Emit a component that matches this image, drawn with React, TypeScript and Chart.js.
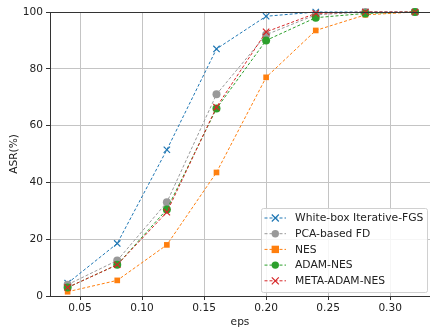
import React, { useEffect, useRef } from "react";
import { Chart, registerables } from "chart.js";

Chart.register(...registerables);

const eps = [0.04, 0.08, 0.12, 0.16, 0.2, 0.24, 0.28, 0.32];
const whiteBox = [4.5, 18.5, 51.5, 87, 98.5, 100, 100, 100];
const pcaFD = [4, 12.5, 33, 71, 92, 99, 100, 100];
const nes = [1.5, 5.5, 18, 43.5, 77, 93.5, 99, 100];
const adamNes = [3, 11, 30.5, 66, 90, 98, 99.5, 100];
const metaAdamNes = [3, 11, 29.5, 66.5, 93, 99.5, 100, 100];
const xTicks = [0.05, 0.1, 0.15, 0.2, 0.25, 0.3];
const yTicks = [0, 20, 40, 60, 80, 100];

const seriesNames = ["White-box Iterative-FGS", "PCA-based FD", "NES", "ADAM-NES", "META-ADAM-NES"];
const seriesData = [whiteBox, pcaFD, nes, adamNes, metaAdamNes];
const seriesColors = ["#1f77b4", "#999999", "#ff7f0e", "#2ca02c", "#d62728"];
const seriesMarkers = ["crossRot", "circle", "rect", "circle", "crossRot"];

const FONT = "DejaVu Sans";
const FS = 10.6;

const frameLegendPlugin = {
  id: "frameLegend",
  afterDraw(chart: any) {
    const { ctx, chartArea } = chart;
    ctx.save();
    // top spine
    ctx.strokeStyle = "#333";
    ctx.lineWidth = 1;
    ctx.beginPath();
    ctx.moveTo(chartArea.left, chartArea.top + 0.5);
    ctx.lineTo(chartArea.right, chartArea.top + 0.5);
    ctx.stroke();

    // legend
    const bx = 261, by = 208, bw = 166, bh = 84;
    ctx.fillStyle = "rgba(255,255,255,0.85)";
    ctx.strokeStyle = "#d0d0d0";
    ctx.lineWidth = 1;
    ctx.beginPath();
    ctx.roundRect(bx + 0.5, by + 0.5, bw, bh, 2);
    ctx.fill();
    ctx.stroke();
    ctx.font = `10.75px "${FONT}"`;
    ctx.textBaseline = "middle";
    seriesNames.forEach((name, i) => {
      const y = 218 + i * 15.7;
      const color = seriesColors[i];
      ctx.strokeStyle = color;
      ctx.lineWidth = 1;
      ctx.setLineDash([3, 2]);
      ctx.beginPath();
      ctx.moveTo(264.5, y);
      ctx.lineTo(286, y);
      ctx.stroke();
      ctx.setLineDash([]);
      const mx = 275.3;
      ctx.fillStyle = color;
      const m = seriesMarkers[i];
      if (m === "circle") {
        ctx.beginPath();
        ctx.arc(mx, y, 3.7, 0, Math.PI * 2);
        ctx.fill();
      } else if (m === "rect") {
        ctx.fillRect(mx - 3.7, y - 3.7, 7.4, 7.4);
      } else {
        ctx.lineWidth = 1.2;
        ctx.beginPath();
        ctx.moveTo(mx - 3.5, y - 3.5);
        ctx.lineTo(mx + 3.5, y + 3.5);
        ctx.moveTo(mx + 3.5, y - 3.5);
        ctx.lineTo(mx - 3.5, y + 3.5);
        ctx.stroke();
      }
      ctx.fillStyle = "#222";
      ctx.fillText(name, 295, y + 0.5);
    });
    ctx.restore();
  },
};

export default function App() {
  const ref = useRef<HTMLCanvasElement>(null);
  useEffect(() => {
    document.body.style.margin = "0";
    const chart = new Chart(ref.current!, {
      type: "line",
      data: {
        datasets: seriesNames.map((name, i) => ({
          label: name,
          data: eps.map((x, j) => ({ x, y: seriesData[i][j] })),
          borderColor: seriesColors[i],
          backgroundColor: seriesColors[i],
          pointBorderColor: seriesColors[i],
          pointBackgroundColor: seriesColors[i],
          borderWidth: 1,
          borderDash: [3, 2],
          pointStyle: seriesMarkers[i] as any,
          pointRadius: seriesMarkers[i] === "crossRot" ? 4.5 : 4,
          pointBorderWidth: seriesMarkers[i] === "crossRot" ? 1.2 : 0,
          tension: 0,
          clip: false as any,
          order: 4 - i,
        })),
      },
      options: {
        animation: false,
        responsive: false,
        layout: { autoPadding: false, padding: { top: 12, left: 0, right: 0, bottom: 0 } },
        plugins: { legend: { display: false }, tooltip: { enabled: false } },
        scales: {
          x: {
            type: "linear",
            min: 0.0258,
            max: 0.3321,
            afterFit(scale: any) {
              scale.height = 33;
            },
            afterBuildTicks(scale: any) {
              scale.ticks = xTicks.map((v) => ({ value: v }));
            },
            ticks: {
              font: { family: FONT, size: FS },
              color: "#222",
              padding: 2,
              maxRotation: 0,
              callback: (v: any) => Number(v).toFixed(2),
            },
            grid: { color: "#c4c4c4", lineWidth: 1, tickLength: 4, tickColor: "#333" },
            border: { color: "#333", width: 1 },
            title: { display: true, text: "eps", font: { family: FONT, size: FS }, color: "#222", padding: 0 },
          },
          y: {
            type: "linear",
            min: 0,
            max: 100,
            afterFit(scale: any) {
              scale.width = 50;
            },
            afterBuildTicks(scale: any) {
              scale.ticks = yTicks.map((v) => ({ value: v }));
            },
            ticks: { font: { family: FONT, size: FS }, color: "#222", padding: 3 },
            grid: { color: "#c4c4c4", lineWidth: 1, tickLength: 4, tickColor: "#333" },
            border: { color: "#333", width: 1 },
            title: {
              display: true,
              text: "ASR(%)",
              font: { family: FONT, size: FS },
              color: "#222",
              padding: { top: 7.6, bottom: 0 },
            },
          },
        },
      },
      plugins: [frameLegendPlugin],
    } as any);
    return () => chart.destroy();
  }, []);
  return (
    <div style={{ position: "fixed", left: 0, top: 0, width: 430, height: 329 }}>
      <canvas ref={ref} width={430} height={329} style={{ width: 430, height: 329 }} />
    </div>
  );
}
